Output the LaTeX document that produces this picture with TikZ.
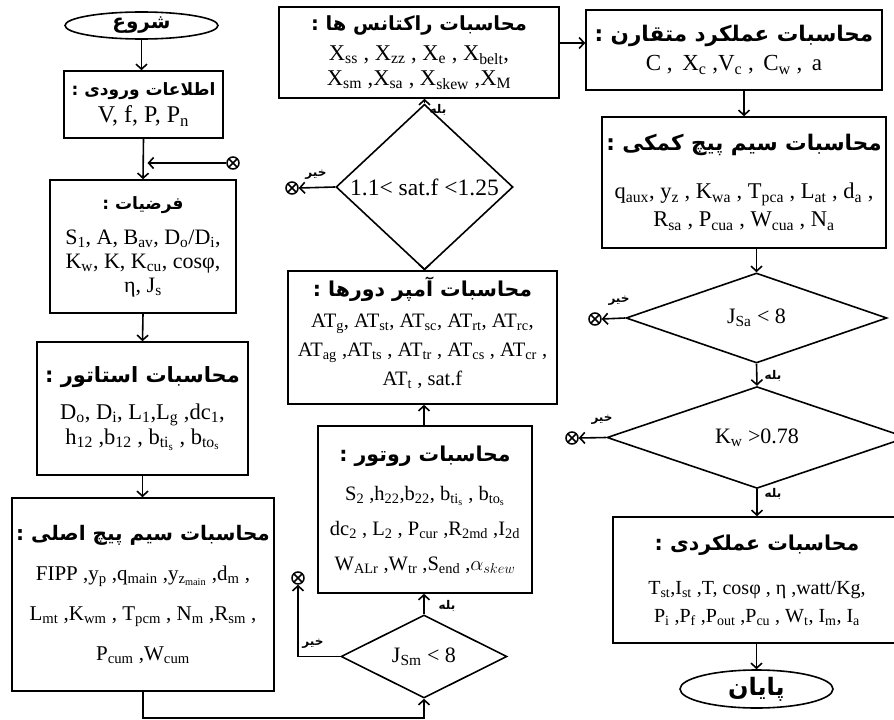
\documentclass[tikz,border=0pt]{standalone}
\usepackage{fontspec}
\setmainfont{Liberation Serif}
\newfontfamily\fa[Script=Arabic]{DejaVu Sans}
\TeXXeTstate=1
\usetikzlibrary{shapes.geometric,arrows.meta}
\newcommand{\sbx}[1]{\textsubscript{#1}}
\newcommand{\fah}[2]{{\fa\bfseries\fontsize{#1}{#1}\selectfont #2}}
\newcommand{\fal}[1]{{\fa\bfseries\fontsize{12}{12}\selectfont #1}}
\newcommand{\fsz}[2]{\fontsize{#1}{#2}\selectfont}
\begin{document}
\begin{tikzpicture}[x=1pt,y=-1pt,
  box/.style={draw,line width=1.6pt,align=center,inner sep=0pt},
  dia/.style={draw,diamond,line width=1.6pt,inner sep=0pt,font=\fsz{22}{24}},
  term/.style={draw,ellipse,line width=1.6pt,inner sep=0pt},
  arr/.style={line width=1.6pt,-{Straight Barb[length=5pt,width=11pt]}},
  ox/.style={circle,draw,line width=1.5pt,minimum size=12pt,inner sep=0pt,
    path picture={\draw[line width=1.5pt] (path picture bounding box.north west) -- (path picture bounding box.south east)
      (path picture bounding box.north east) -- (path picture bounding box.south west);}},
  lbl/.style={inner sep=0pt}]
\clip (0,0) rectangle (894,720);
\fill[white] (0,0) rectangle (894,720);
% left column
\node[term,minimum width=153pt,minimum height=27pt] (start) at (141.5,25.5) {\fah{20}{\beginR شروع\endR}};
\node[box,minimum width=159pt,minimum height=67pt,font=\fsz{24}{25}] (inp) at (143.5,104.5)
  {\fah{17}{\beginR اطلاعات ورودی :\endR}\\[2pt] V, f, P, P\sbx{n}};
\node[box,minimum width=186pt,minimum height=133pt,font=\fsz{22}{24}] (asm) at (143,246.5)
  {\fah{17}{\beginR فرضیات :\endR}\\[11pt] S\sbx{1}, A, B\sbx{av}, D\sbx{o}/D\sbx{i},\\ K\sbx{w}, K, K\sbx{cu}, cosφ,\\ η, J\sbx{s}};
\node[box,minimum width=211pt,minimum height=133pt,font=\fsz{22.5}{25}] (sta) at (142.5,408.5)
  {\fah{21}{\beginR محاسبات استاتور :\endR}\\[12pt] D\sbx{o}, D\sbx{i}, L\sbx{1},L\sbx{g} ,dc\sbx{1},\\ h\sbx{12} ,b\sbx{12} , b\sbx{ti\sbx{s}} , b\sbx{to\sbx{s}}};
\node[box,minimum width=262pt,minimum height=193pt,font=\fsz{21}{40}] (mai) at (143,594.5)
  {\fah{20}{\beginR محاسبات سیم پیچ اصلی :\endR}\\ FIPP ,y\sbx{p} ,q\sbx{main} ,y\sbx{z\sbx{main}} ,d\sbx{m} ,\\ L\sbx{mt} ,K\sbx{wm} , T\sbx{pcm} , N\sbx{m} ,R\sbx{sm} ,\\ P\sbx{cum} ,W\sbx{cum}};
\node[ox] (x1) at (233,163) {};
% middle column
\node[box,minimum width=280pt,minimum height=91pt,font=\fsz{22.5}{25}] (rea) at (419,52.5)
  {\fah{19.5}{\beginR محاسبات راکتانس ها :\endR}\\[5pt] X\sbx{ss} , X\sbx{zz} , X\sbx{e} , X\sbx{belt},\\ X\sbx{sm} ,X\sbx{sa} , X\sbx{skew} ,X\sbx{M}};
\node[dia,minimum width=177pt,minimum height=126pt,font=\fsz{23.5}{24}] (d1) at (424.5,187) {1.1< sat.f <1.25};
\node[box,minimum width=269pt,minimum height=133pt,font=\fsz{20.5}{29}] (amp) at (422.5,337.5)
  {\fah{20.5}{\beginR محاسبات آمپر دورها :\endR}\\[2pt] AT\sbx{g}, AT\sbx{st}, AT\sbx{sc}, AT\sbx{rt}, AT\sbx{rc},\\ AT\sbx{ag} ,AT\sbx{ts} , AT\sbx{tr} , AT\sbx{cs} , AT\sbx{cr} ,\\ AT\sbx{t} , sat.f\rule[-12pt]{0pt}{1pt}};
\node[box,minimum width=214pt,minimum height=167pt,font=\fsz{20.5}{35}] (rot) at (425,509.5)
  {\fah{20.5}{\beginR محاسبات روتور :\endR}\\[4pt] S\sbx{2} ,h\sbx{22},b\sbx{22}, b\sbx{ti\sbx{s}} , b\sbx{to\sbx{s}}\\ dc\sbx{2} , L\sbx{2} , P\sbx{cur} ,R\sbx{2md} ,I\sbx{2d}\\ W\sbx{ALr} ,W\sbx{tr} ,S\sbx{end} ,$\alpha_{skew}$};
\node[dia,minimum width=166pt,minimum height=83pt] (d2) at (424,656.5) {J\sbx{Sm} < 8};
\node[ox] (x2) at (292,188) {};
\node[ox] (x3) at (298,578) {};
\coordinate (loop) at (0,718);
% right column
\node[box,minimum width=296pt,minimum height=80pt,font=\fsz{23}{29}] (syn) at (734,50)
  {\fah{21.5}{\beginR محاسبات عملکرد متقارن :\endR}\\ C ,\, X\sbx{c} ,V\sbx{c} ,\, C\sbx{w} ,\, a};
\node[box,minimum width=284pt,minimum height=131pt,font=\fsz{22.5}{28}] (aux) at (744,182.5)
  {\fah{21.5}{\beginR محاسبات سیم پیچ کمکی :\endR}\\[20pt] q\sbx{aux}, y\sbx{z} , K\sbx{wa} , T\sbx{pca} , L\sbx{at} , d\sbx{a} ,\\ R\sbx{sa} , P\sbx{cua} , W\sbx{cua} , N\sbx{a}};
\node[dia,minimum width=261pt,minimum height=90pt] (d3) at (756.5,318) {J\sbx{Sa} < 8};
\node[dia,minimum width=300pt,minimum height=81pt] (d4) at (757,437.5) {K\sbx{w} >0.78};
\node[box,minimum width=288pt,minimum height=126pt,font=\fsz{20}{28}] (per) at (757,580)
  {\rule{0pt}{14pt}\fah{20.5}{\beginR محاسبات عملکردی :\endR}\\[16pt] T\sbx{st},I\sbx{st} ,T, cosφ , η ,watt/Kg,\\ P\sbx{i} ,P\sbx{f} ,P\sbx{out} ,P\sbx{cu} , W\sbx{t}, I\sbx{m}, I\sbx{a}};
\node[term,minimum width=153pt,minimum height=38pt] (fin) at (756.5,689) {\fah{24}{\beginR پایان\endR}};
\node[ox] (x4) at (595,319) {};
\node[ox] (x5) at (572,438) {};
% labels
\node[lbl] at (438,110) {\fal{\beginR بله\endR}};
\node[lbl] at (316,175) {\fal{\beginR خیر\endR}};
\node[lbl] at (447,606) {\fal{\beginR بله\endR}};
\node[lbl] at (313,644) {\fal{\beginR خیر\endR}};
\node[lbl] at (619,301) {\fal{\beginR خیر\endR}};
\node[lbl] at (773,376) {\fal{\beginR بله\endR}};
\node[lbl] at (602,420) {\fal{\beginR خیر\endR}};
\node[lbl] at (773,494) {\fal{\beginR بله\endR}};
% connectors
\draw[arr] (start.south) -- (start.south |- inp.north);
\draw[arr] (inp.south) -- (asm.north);
\draw[arr] (asm.south) -- (sta.north);
\draw[arr] (sta.south) -- (sta.south |- mai.north);
\draw[arr] (x1.west) -- ([xshift=4pt]x1.west -| inp.south);
\draw[arr] (mai.south) -- (mai.south |- loop) -| (d2.south);
\draw[arr] (d2.north) -- (d2.north |- rot.south);
\draw[arr] (d2.west) -| (x3.south);
\draw[arr] (rot.north -| d2.north) -- (d2.north |- amp.south);
\draw[arr] (d1.south |- amp.north) -- (d1.south);
\draw[arr] (d1.west) -- (x2.east);
\draw[arr] (d1.north) -- (d1.north |- rea.south);
\draw[arr] ([yshift=9.5pt]rea.east) -- ([yshift=9.5pt]rea.east -| syn.west);
\draw[arr] (aux.north |- syn.south) -- (aux.north);
\draw[arr] (d3.north |- aux.south) -- (d3.north);
\draw[arr] (d3.south) -- (d4.north);
\draw[arr] (d4.south) -- (per.north);
\draw[arr] (per.south -| fin.north) -- (fin.north);
\draw[arr] (d3.west) -- (x4.east);
\draw[arr] (d4.west) -- (x5.east);
\end{tikzpicture}
\end{document}
